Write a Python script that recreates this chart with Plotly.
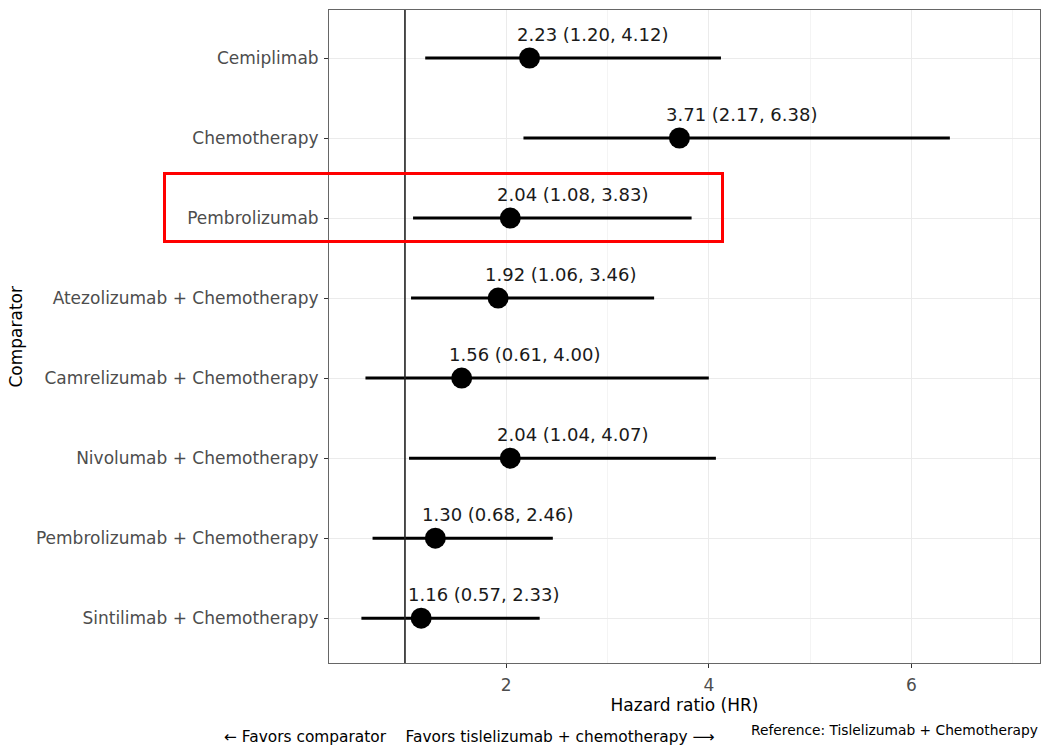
import plotly.graph_objects as go

comparators = [
    "Cemiplimab",
    "Chemotherapy",
    "Pembrolizumab",
    "Atezolizumab + Chemotherapy",
    "Camrelizumab + Chemotherapy",
    "Nivolumab + Chemotherapy",
    "Pembrolizumab + Chemotherapy",
    "Sintilimab + Chemotherapy",
]
hr = [2.23, 3.71, 2.04, 1.92, 1.56, 2.04, 1.30, 1.16]
lower = [1.20, 2.17, 1.08, 1.06, 0.61, 1.04, 0.68, 0.57]
upper = [4.12, 6.38, 3.83, 3.46, 4.00, 4.07, 2.46, 2.33]
x_ticks = [2, 4, 6]
highlight = "Pembrolizumab"

FONT = "DejaVu Sans"

fig = go.Figure()
fig.add_trace(go.Scatter(
    x=hr, y=comparators, mode="markers",
    marker=dict(size=21, color="black"),
    error_x=dict(type="data", symmetric=False,
                 array=[u - h for u, h in zip(upper, hr)],
                 arrayminus=[h - l for h, l in zip(hr, lower)],
                 width=0, thickness=3, color="black"),
    showlegend=False, hoverinfo="skip",
))

annotations = []
for c, h, l, u in zip(comparators, hr, lower, upper):
    annotations.append(dict(
        x=h, y=c, xref="x", yref="y", text=f"{h:.2f} ({l:.2f}, {u:.2f})",
        showarrow=False, xanchor="left", yanchor="middle", xshift=-15, yshift=23.5,
        font=dict(family=FONT, size=18, color="#1a1a1a"),
    ))

# y-axis title
annotations.append(dict(
    x=-0.4416, y=0.5, xref="paper", yref="paper", text="Comparator",
    textangle=-90, showarrow=False, xanchor="center", yanchor="middle",
    font=dict(family=FONT, size=17, color="black"),
))
# bottom captions
annotations.append(dict(
    x=-0.1505, y=-0.1133, xref="paper", yref="paper",
    text="← Favors comparator    Favors tislelizumab + chemotherapy ⟶",
    showarrow=False, xanchor="left", yanchor="middle",
    font=dict(family=FONT, size=15.4, color="black"),
))
annotations.append(dict(
    x=1.0, y=-0.1026, xref="paper", yref="paper",
    text="Reference: Tislelizumab + Chemotherapy",
    showarrow=False, xanchor="right", yanchor="middle",
    font=dict(family=FONT, size=13.8, color="black"),
))

shapes = [
    dict(type="line", xref="x", yref="paper", x0=1, x1=1, y0=0, y1=1,
         line=dict(color="#222222", width=1.6), layer="above"),
    dict(type="rect", xref="paper", yref="paper",
         x0=(164.5 - 329) / 711, x1=(722.5 - 329) / 711,
         y0=(663 - 241.5) / 653, y1=(663 - 173.5) / 653,
         line=dict(color="#ff0000", width=3), layer="above"),
]

fig.update_layout(
    width=1045, height=746,
    margin=dict(l=329, r=5, t=10, b=83),
    paper_bgcolor="white", plot_bgcolor="white",
    font=dict(family=FONT, size=17, color="#4D4D4D"),
    annotations=annotations, shapes=shapes,
    xaxis=dict(
        range=[0.25, 7.27], tickvals=x_ticks, ticktext=[str(t) for t in x_ticks],
        showgrid=True, gridcolor="#EBEBEB", gridwidth=1,
        minor=dict(tickvals=[1, 3, 5, 7], showgrid=True, gridcolor="#F4F4F4", gridwidth=1, ticks=""),
        ticks="outside", ticklen=4, tickcolor="#333333",
        showline=True, mirror=True, linecolor="#666666", linewidth=1,
        zeroline=False, tickfont=dict(size=17, color="#4D4D4D"),
        ticklabelstandoff=3,
        title=dict(text="Hazard ratio (HR)", standoff=4, font=dict(size=17, color="black")),
    ),
    yaxis=dict(
        type="category", categoryorder="array", categoryarray=comparators,
        range=[7.56, -0.6],
        showgrid=True, gridcolor="#EBEBEB", gridwidth=1,
        ticks="outside", ticklen=4, tickcolor="#333333",
        showline=True, mirror=True, linecolor="#666666", linewidth=1,
        zeroline=False, tickfont=dict(size=17, color="#4D4D4D"),
        ticklabelstandoff=2,
    ),
)

fig.write_html("out.html", config={"displayModeBar": False},
               post_script="document.body.style.margin='0';document.body.style.overflow='hidden';")
